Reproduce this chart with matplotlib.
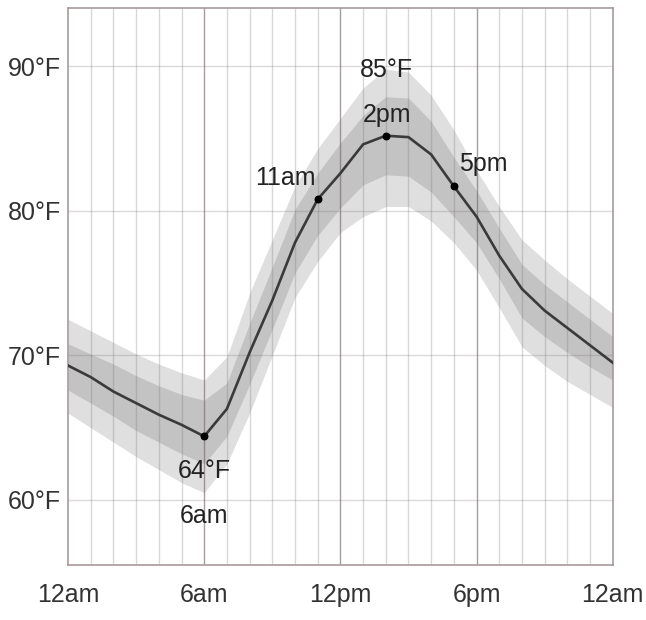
import matplotlib
matplotlib.use("Agg")
import matplotlib.pyplot as plt
import numpy as np

# hourly forecast, 12am .. 12am next day
hours = list(range(25))
temp = [69.3, 68.5, 67.5, 66.7, 65.9, 65.2, 64.4, 66.3, 70.2, 73.8,
        77.8, 80.8, 82.6, 84.6, 85.2, 85.1, 83.9, 81.7, 79.6, 76.9,
        74.6, 73.1, 71.9, 70.7, 69.5]

# uncertainty bands (outer = light, inner = darker)
outer_hi = [72.5, 71.7, 70.9, 70.1, 69.4, 68.8, 68.3, 69.9, 74.3, 78.0,
            81.7, 84.3, 86.4, 88.5, 89.8, 89.6, 88.0, 85.6, 82.8, 80.3,
            78.0, 76.6, 75.3, 74.1, 72.9]
inner_hi = [70.8, 70.1, 69.4, 68.6, 67.9, 67.3, 66.9, 68.1, 72.2, 76.1,
            80.1, 82.6, 84.7, 86.6, 87.9, 87.8, 86.2, 83.7, 81.4, 78.8,
            76.3, 74.9, 73.7, 72.5, 71.3]
inner_lo = [67.6, 66.7, 65.8, 64.8, 64.0, 63.2, 62.5, 64.4, 68.0, 71.8,
            75.7, 78.3, 80.2, 81.8, 82.5, 82.4, 81.3, 79.6, 77.8, 75.3,
            72.6, 71.3, 70.2, 69.2, 68.3]
outer_lo = [66.0, 65.0, 64.0, 63.0, 62.1, 61.2, 60.5, 62.5, 66.0, 70.0,
            74.0, 76.5, 78.5, 79.6, 80.3, 80.3, 79.3, 77.8, 75.9, 73.3,
            70.6, 69.3, 68.2, 67.3, 66.4]

# hours with a dot and a label
marked_hours = [6, 11, 14, 17]

x_ticks = [0, 6, 12, 18, 24]
x_labels = ["12am", "6am", "12pm", "6pm", "12am"]
y_ticks = [60, 70, 80, 90]
y_labels = ["60°F", "70°F", "80°F", "90°F"]

plt.rcParams["font.family"] = ["Liberation Sans Narrow", "Liberation Sans", "DejaVu Sans"]

fig = plt.figure(figsize=(6.46, 6.2), dpi=100)
ax = fig.add_axes([0.1053, 0.0887, 0.8432, 0.8976])

ax.fill_between(hours, outer_lo, outer_hi, color="#dcdcdc", alpha=0.9, lw=0, zorder=1)
ax.fill_between(hours, inner_lo, inner_hi, color="#b4b4b4", alpha=0.65, lw=0, zorder=1.5)

# grid: every hour, stronger every 6 hours (drawn over the bands, see-through)
for h in range(1, 24):
    if h % 6 == 0:
        ax.axvline(h, color="#756a6a", alpha=0.65, lw=1.0, zorder=2)
    else:
        ax.axvline(h, color="#7d7070", alpha=0.28, lw=1.0, zorder=2)
for t in y_ticks:
    ax.axhline(t, color="#7d7070", alpha=0.26, lw=1.0, zorder=2)

ax.plot(hours, temp, color="#3a3a3a", lw=1.9, zorder=4)
my = [temp[h] for h in marked_hours]
ax.scatter(marked_hours, my, s=22, color="black", zorder=5)

ax.set_xlim(0, 24)
ax.set_ylim(55.5, 94)
ax.set_xticks(x_ticks)
ax.set_xticklabels(x_labels)
ax.set_yticks(y_ticks)
ax.set_yticklabels(y_labels)
ax.tick_params(length=0, labelsize=18, colors="#333333")
ax.tick_params(axis="x", pad=13)
ax.tick_params(axis="y", pad=5)
for s in ax.spines.values():
    s.set_color("#a89a9a")
    s.set_linewidth(1.2)

txt = dict(fontsize=18, color="#222222", textcoords="offset pixels", zorder=6)
ax.annotate(f"{round(temp[6])}°F", (6, temp[6]), xytext=(0, -42), ha="center", va="baseline", **txt)
ax.annotate("6am", (6, temp[6]), xytext=(0, -87), ha="center", va="baseline", **txt)
ax.annotate(f"{round(temp[14])}°F", (14, temp[14]), xytext=(1, 59), ha="center", va="baseline", **txt)
ax.annotate("2pm", (14, temp[14]), xytext=(1, 14), ha="center", va="baseline", **txt)
ax.annotate("11am", (11, temp[11]), xytext=(-2, 14), ha="right", va="baseline", **txt)
ax.annotate("5pm", (17, temp[17]), xytext=(5, 15), ha="left", va="baseline", **txt)

fig.savefig("out.png", dpi=100)
